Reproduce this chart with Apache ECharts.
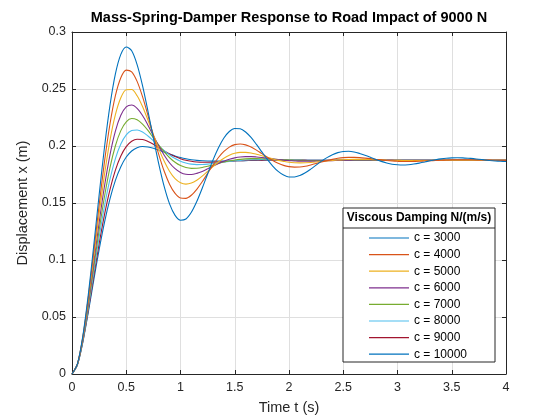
<!DOCTYPE html>
<html>
<head>
<meta charset="utf-8">
<script src="https://cdn.jsdelivr.net/npm/echarts@6/dist/echarts.min.js"></script>
<style>
html,body{margin:0;padding:0;background:#fff;}
#chart{width:560px;height:420px;}
</style>
</head>
<body>
<div id="chart"></div>
<script>
// Time samples (s)
var times = [
  0, 0.05, 0.1, 0.15, 0.2, 0.25, 0.3, 0.35, 0.4, 0.45,
  0.5, 0.55, 0.6, 0.65, 0.7, 0.75, 0.8, 0.85, 0.9, 0.95,
  1, 1.05, 1.1, 1.15, 1.2, 1.25, 1.3, 1.35, 1.4, 1.45,
  1.5, 1.55, 1.6, 1.65, 1.7, 1.75, 1.8, 1.85, 1.9, 1.95,
  2, 2.05, 2.1, 2.15, 2.2, 2.25, 2.3, 2.35, 2.4, 2.45,
  2.5, 2.55, 2.6, 2.65, 2.7, 2.75, 2.8, 2.85, 2.9, 2.95,
  3, 3.05, 3.1, 3.15, 3.2, 3.25, 3.3, 3.35, 3.4, 3.45,
  3.5, 3.55, 3.6, 3.65, 3.7, 3.75, 3.8, 3.85, 3.9, 3.95,
  4
];

var seriesNames = ['c = 3000', 'c = 4000', 'c = 5000', 'c = 6000', 'c = 7000', 'c = 8000', 'c = 9000', 'c = 10000'];

var c3000 = [
  0, 0.0089, 0.0334, 0.0694, 0.1122, 0.1570, 0.1993, 0.2356, 0.2632, 0.2804,
  0.2869, 0.2835, 0.2714, 0.2530, 0.2306, 0.2069, 0.1841, 0.1643, 0.1490, 0.1391,
  0.1349, 0.1360, 0.1419, 0.1513, 0.1629, 0.1755, 0.1878, 0.1985, 0.2070, 0.2127,
  0.2153, 0.2151, 0.2123, 0.2075, 0.2014, 0.1948, 0.1882, 0.1824, 0.1777, 0.1745,
  0.1728, 0.1728, 0.1741, 0.1765, 0.1797, 0.1832, 0.1867, 0.1898, 0.1924, 0.1942,
  0.1952, 0.1954, 0.1948, 0.1935, 0.1919, 0.1901, 0.1882, 0.1865, 0.1851, 0.1840,
  0.1835, 0.1833, 0.1836, 0.1842, 0.1850, 0.1860, 0.1870, 0.1879, 0.1887, 0.1893,
  0.1896, 0.1897, 0.1896, 0.1893, 0.1889, 0.1884, 0.1878, 0.1873, 0.1869, 0.1866,
  0.1864
];
var c4000 = [
  0, 0.0088, 0.0326, 0.0669, 0.1069, 0.1481, 0.1867, 0.2193, 0.2441, 0.2599,
  0.2666, 0.2651, 0.2567, 0.2433, 0.2269, 0.2094, 0.1925, 0.1778, 0.1663, 0.1584,
  0.1544, 0.1541, 0.1568, 0.1620, 0.1686, 0.1760, 0.1833, 0.1899, 0.1952, 0.1990,
  0.2012, 0.2018, 0.2010, 0.1991, 0.1964, 0.1933, 0.1902, 0.1873, 0.1849, 0.1830,
  0.1819, 0.1815, 0.1816, 0.1823, 0.1834, 0.1846, 0.1860, 0.1872, 0.1883, 0.1892,
  0.1898, 0.1900, 0.1900, 0.1898, 0.1894, 0.1889, 0.1883, 0.1878, 0.1873, 0.1869,
  0.1866, 0.1864, 0.1864, 0.1865, 0.1866, 0.1869, 0.1871, 0.1873, 0.1875, 0.1877,
  0.1879, 0.1879, 0.1880, 0.1879, 0.1879, 0.1878, 0.1877, 0.1876, 0.1875, 0.1874,
  0.1874
];
var c5000 = [
  0, 0.0087, 0.0318, 0.0644, 0.1020, 0.1401, 0.1753, 0.2050, 0.2275, 0.2423,
  0.2493, 0.2495, 0.2441, 0.2346, 0.2227, 0.2099, 0.1975, 0.1866, 0.1777, 0.1714,
  0.1678, 0.1666, 0.1675, 0.1700, 0.1736, 0.1778, 0.1820, 0.1860, 0.1893, 0.1919,
  0.1936, 0.1944, 0.1944, 0.1939, 0.1928, 0.1915, 0.1901, 0.1887, 0.1874, 0.1865,
  0.1857, 0.1853, 0.1852, 0.1853, 0.1855, 0.1859, 0.1864, 0.1869, 0.1873, 0.1877,
  0.1880, 0.1882, 0.1883, 0.1883, 0.1882, 0.1881, 0.1880, 0.1878, 0.1876, 0.1875,
  0.1874, 0.1873, 0.1873, 0.1872, 0.1873, 0.1873, 0.1873, 0.1874, 0.1874, 0.1875,
  0.1875, 0.1875, 0.1875, 0.1875, 0.1875, 0.1875, 0.1875, 0.1875, 0.1875, 0.1875,
  0.1875
];
var c6000 = [
  0, 0.0086, 0.0310, 0.0621, 0.0974, 0.1328, 0.1651, 0.1923, 0.2130, 0.2269,
  0.2343, 0.2359, 0.2330, 0.2267, 0.2183, 0.2091, 0.2000, 0.1919, 0.1851, 0.1801,
  0.1768, 0.1752, 0.1750, 0.1760, 0.1777, 0.1800, 0.1824, 0.1847, 0.1867, 0.1884,
  0.1896, 0.1904, 0.1907, 0.1907, 0.1904, 0.1899, 0.1893, 0.1887, 0.1881, 0.1876,
  0.1872, 0.1869, 0.1867, 0.1867, 0.1867, 0.1868, 0.1869, 0.1871, 0.1872, 0.1874,
  0.1875, 0.1876, 0.1877, 0.1877, 0.1877, 0.1877, 0.1877, 0.1877, 0.1876, 0.1876,
  0.1875, 0.1875, 0.1875, 0.1875, 0.1875, 0.1875, 0.1875, 0.1875, 0.1875, 0.1875,
  0.1875, 0.1875, 0.1875, 0.1875, 0.1875, 0.1875, 0.1875, 0.1875, 0.1875, 0.1875,
  0.1875
];
var c7000 = [
  0, 0.0085, 0.0302, 0.0599, 0.0931, 0.1261, 0.1559, 0.1810, 0.2002, 0.2135,
  0.2212, 0.2241, 0.2230, 0.2192, 0.2137, 0.2072, 0.2007, 0.1948, 0.1897, 0.1857,
  0.1828, 0.1811, 0.1804, 0.1805, 0.1811, 0.1822, 0.1834, 0.1847, 0.1859, 0.1869,
  0.1877, 0.1883, 0.1887, 0.1889, 0.1889, 0.1888, 0.1886, 0.1884, 0.1881, 0.1879,
  0.1877, 0.1875, 0.1874, 0.1873, 0.1872, 0.1872, 0.1872, 0.1873, 0.1873, 0.1874,
  0.1874, 0.1875, 0.1875, 0.1875, 0.1875, 0.1875, 0.1875, 0.1875, 0.1875, 0.1875,
  0.1875, 0.1875, 0.1875, 0.1875, 0.1875, 0.1875, 0.1875, 0.1875, 0.1875, 0.1875,
  0.1875, 0.1875, 0.1875, 0.1875, 0.1875, 0.1875, 0.1875, 0.1875, 0.1875, 0.1875,
  0.1875
];
var c8000 = [
  0, 0.0084, 0.0294, 0.0579, 0.0892, 0.1199, 0.1476, 0.1709, 0.1889, 0.2017,
  0.2097, 0.2135, 0.2141, 0.2123, 0.2088, 0.2046, 0.2001, 0.1959, 0.1921, 0.1890,
  0.1867, 0.1851, 0.1841, 0.1837, 0.1838, 0.1841, 0.1846, 0.1853, 0.1859, 0.1865,
  0.1870, 0.1874, 0.1877, 0.1879, 0.1880, 0.1881, 0.1880, 0.1880, 0.1879, 0.1878,
  0.1877, 0.1876, 0.1876, 0.1875, 0.1875, 0.1874, 0.1874, 0.1874, 0.1875, 0.1875,
  0.1875, 0.1875, 0.1875, 0.1875, 0.1875, 0.1875, 0.1875, 0.1875, 0.1875, 0.1875,
  0.1875, 0.1875, 0.1875, 0.1875, 0.1875, 0.1875, 0.1875, 0.1875, 0.1875, 0.1875,
  0.1875, 0.1875, 0.1875, 0.1875, 0.1875, 0.1875, 0.1875, 0.1875, 0.1875, 0.1875,
  0.1875
];
var c9000 = [
  0, 0.0082, 0.0287, 0.0559, 0.0855, 0.1143, 0.1401, 0.1618, 0.1788, 0.1912,
  0.1994, 0.2041, 0.2059, 0.2057, 0.2040, 0.2015, 0.1986, 0.1957, 0.1930, 0.1907,
  0.1889, 0.1875, 0.1866, 0.1860, 0.1857, 0.1857, 0.1858, 0.1860, 0.1863, 0.1866,
  0.1869, 0.1871, 0.1873, 0.1875, 0.1876, 0.1876, 0.1877, 0.1877, 0.1877, 0.1877,
  0.1876, 0.1876, 0.1876, 0.1876, 0.1875, 0.1875, 0.1875, 0.1875, 0.1875, 0.1875,
  0.1875, 0.1875, 0.1875, 0.1875, 0.1875, 0.1875, 0.1875, 0.1875, 0.1875, 0.1875,
  0.1875, 0.1875, 0.1875, 0.1875, 0.1875, 0.1875, 0.1875, 0.1875, 0.1875, 0.1875,
  0.1875, 0.1875, 0.1875, 0.1875, 0.1875, 0.1875, 0.1875, 0.1875, 0.1875, 0.1875,
  0.1875
];
var c10000 = [
  0, 0.0081, 0.0280, 0.0541, 0.0821, 0.1091, 0.1333, 0.1536, 0.1698, 0.1818,
  0.1903, 0.1956, 0.1985, 0.1995, 0.1991, 0.1980, 0.1964, 0.1946, 0.1929, 0.1913,
  0.1899, 0.1888, 0.1880, 0.1874, 0.1870, 0.1868, 0.1867, 0.1868, 0.1868, 0.1869,
  0.1870, 0.1871, 0.1872, 0.1873, 0.1874, 0.1875, 0.1875, 0.1875, 0.1875, 0.1875,
  0.1875, 0.1875, 0.1875, 0.1875, 0.1875, 0.1875, 0.1875, 0.1875, 0.1875, 0.1875,
  0.1875, 0.1875, 0.1875, 0.1875, 0.1875, 0.1875, 0.1875, 0.1875, 0.1875, 0.1875,
  0.1875, 0.1875, 0.1875, 0.1875, 0.1875, 0.1875, 0.1875, 0.1875, 0.1875, 0.1875,
  0.1875, 0.1875, 0.1875, 0.1875, 0.1875, 0.1875, 0.1875, 0.1875, 0.1875, 0.1875,
  0.1875
];

var allValues = [c3000, c4000, c5000, c6000, c7000, c8000, c9000, c10000];
var colors = ['#0072BD', '#D95319', '#EDB120', '#7E2F8E', '#77AC30', '#4DBEEE', '#A2142F', '#0072BD'];

var FONT = '"Liberation Sans", Arial, Helvetica, sans-serif';
var AX = '#262626';

var chart = echarts.init(document.getElementById('chart'), null, {renderer: 'canvas'});

var series = allValues.map(function (vals, i) {
  return {
    name: seriesNames[i],
    type: 'line',
    data: times.map(function (t, j) { return [t, vals[j]]; }),
    smooth: 0.3,
    symbol: 'none',
    showSymbol: false,
    clip: true,
    lineStyle: {width: 1.1, color: colors[i]},
    itemStyle: {color: colors[i]},
    emphasis: {disabled: true},
    z: 2 + (allValues.length - i) * 0.01
  };
});

function makeX(pos, show) {
  return {
    type: 'value', position: pos, min: 0, max: 4, interval: 0.5,
    name: show ? 'Time t (s)' : '',
    nameLocation: 'middle', nameGap: 26,
    nameTextStyle: {fontFamily: FONT, fontSize: 14.5, color: AX},
    axisLine: {show: true, onZero: false, lineStyle: {color: AX, width: 1}},
    axisTick: {show: true, inside: true, length: 4, lineStyle: {color: AX}},
    axisLabel: {show: show, fontFamily: FONT, fontSize: 12.5, color: AX, margin: 7},
    splitLine: {show: show, lineStyle: {color: '#DFDFDF', width: 1}}
  };
}
function makeY(pos, show) {
  return {
    type: 'value', position: pos, min: 0, max: 0.3, interval: 0.05,
    name: show ? 'Displacement x (m)' : '',
    nameLocation: 'middle', nameGap: 31,
    nameTextStyle: {fontFamily: FONT, fontSize: 14.5, color: AX},
    axisLine: {show: true, onZero: false, lineStyle: {color: AX, width: 1}},
    axisTick: {show: true, inside: true, length: 4, lineStyle: {color: AX}},
    axisLabel: {show: show, fontFamily: FONT, fontSize: 12.5, color: AX, margin: 6},
    splitLine: {show: show, lineStyle: {color: '#DFDFDF', width: 1}}
  };
}

var option = {
  backgroundColor: '#ffffff',
  animation: false,
  color: colors,
  title: {
    text: 'Mass-Spring-Damper Response to Road Impact of 9000 N',
    left: 289, top: 10, textAlign: 'center', padding: 0,
    textStyle: {fontFamily: FONT, fontSize: 14.5, fontWeight: 'bold', color: '#000'}
  },
  grid: {left: 72, right: 54, top: 32, bottom: 46, containLabel: false},
  xAxis: [makeX('bottom', true), makeX('top', false)],
  yAxis: [makeY('left', true), makeY('right', false)],
  legend: {
    orient: 'vertical',
    left: 369, top: 232, padding: 0,
    itemWidth: 40, itemHeight: 12, itemGap: 4.6,
    icon: 'path://M0,6 L40,6 L40,7.2 L0,7.2 Z',
    textStyle: {fontFamily: FONT, fontSize: 12, color: '#000'},
    data: seriesNames,
    z: 20
  },
  graphic: [
    {type: 'rect', z: 10, shape: {x: 343, y: 208, width: 152, height: 154},
     style: {fill: '#fff', stroke: AX, lineWidth: 1}},
    {type: 'line', z: 11, shape: {x1: 343, y1: 228, x2: 495, y2: 228},
     style: {stroke: AX, lineWidth: 1}},
    {type: 'text', z: 11, x: 419, y: 218,
     style: {text: 'Viscous Damping N/(m/s)', fontFamily: FONT, fontSize: 12, fontWeight: 'bold',
             fill: '#000', align: 'center', verticalAlign: 'middle'}}
  ],
  series: series
};
chart.setOption(option);
</script>
</body>
</html>
